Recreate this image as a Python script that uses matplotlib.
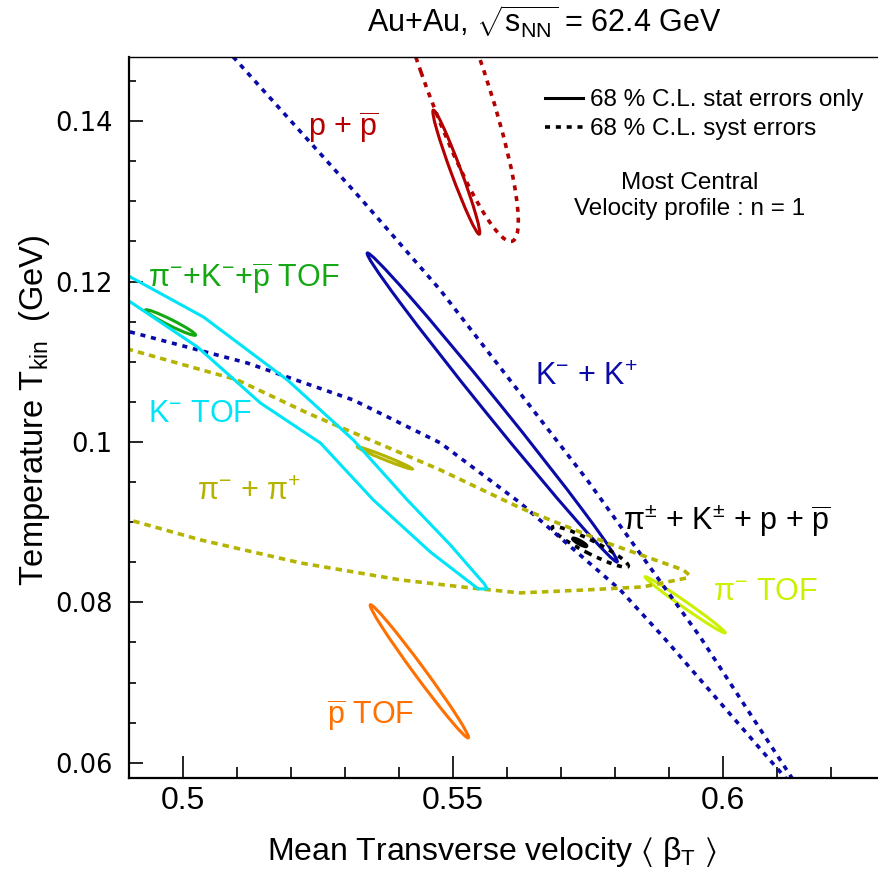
import matplotlib
matplotlib.use('Agg')
import matplotlib.pyplot as plt
from matplotlib.patches import Circle
from matplotlib.transforms import Affine2D
from matplotlib.lines import Line2D
from matplotlib.ticker import MultipleLocator

plt.rcParams['font.family'] = ['Liberation Sans', 'DejaVu Sans']
plt.rcParams['mathtext.fontset'] = 'custom'
plt.rcParams['mathtext.rm'] = 'Liberation Sans'
plt.rcParams['mathtext.it'] = 'Liberation Sans:italic'
plt.rcParams['mathtext.bf'] = 'Liberation Sans:bold'
plt.rcParams['mathtext.default'] = 'regular'

# axis ticks
x_ticks = [0.5, 0.55, 0.6]
x_ticklabels = ['0.5', '0.55', '0.6']
y_ticks = [0.06, 0.08, 0.1, 0.12, 0.14]
y_ticklabels = ['0.06', '0.08', '0.1', '0.12', '0.14']

# elliptic contours: centre (beta, T) plus two conjugate half-axis vectors
ell_keys = ['pp_stat', 'pp_syst', 'kk_stat', 'tof3_stat', 'pipi_stat',
            'all_syst', 'all_stat', 'pim_tof', 'pbar_tof']
ell_beta = [0.55065, 0.54935, 0.55731, 0.49769, 0.53741, 0.57546, 0.57352, 0.59306, 0.54380]
ell_T = [0.13364, 0.14735, 0.10430, 0.11489, 0.09801, 0.08692, 0.08748, 0.07969, 0.07140]
ell_a_beta = [0.00426, 0.01167, 0.02315, 0.00463, 0.00509, 0.00704, 0.00120, 0.00741, 0.00907]
ell_a_T = [-0.00773, -0.02231, -0.01925, -0.00156, -0.00137, -0.00243, -0.00044, -0.00349, -0.00829]
ell_b_beta = [0.00087, 0.00524, 0.00115, 0.00024, 0.00013, 0.00056, 0.00009, 0.00031, 0.00080]
ell_b_T = [0.00022, 0.00123, 0.00062, 0.00034, 0.00021, 0.00072, 0.00015, 0.00031, 0.00039]

# irregular contours read point by point
kk_syst_beta = [0.49991, 0.50935, 0.53287, 0.54769, 0.57491, 0.59583, 0.61306, 0.61380,
                0.61194, 0.58898, 0.58102, 0.56250, 0.54769, 0.53157, 0.51194, 0.49028, 0.47731]
kk_syst_T = [0.15508, 0.14798, 0.13040, 0.11894, 0.09526, 0.07570, 0.05788, 0.05639,
             0.05788, 0.07570, 0.08156, 0.09240, 0.09988, 0.10523, 0.10984, 0.11371, 0.11545]

pipi_syst_beta = [0.47731, 0.48843, 0.51009, 0.52306, 0.54769, 0.56250, 0.57861, 0.59269, 0.59380,
                  0.59343, 0.58528, 0.57491, 0.56250, 0.55324, 0.54028, 0.52176, 0.50324, 0.49009, 0.47731]
pipi_syst_T = [0.11421, 0.11184, 0.10773, 0.10361, 0.09651, 0.09178, 0.08741, 0.08405, 0.08343,
               0.08305, 0.08193, 0.08156, 0.08118, 0.08181, 0.08280, 0.08492, 0.08779, 0.09028, 0.09315]

km_tof_beta = [0.48472, 0.49028, 0.50380, 0.51935, 0.53157, 0.54157, 0.54954, 0.55583, 0.55639,
               0.55472, 0.54583, 0.53528, 0.52546, 0.51435, 0.50269, 0.49028, 0.48472]
km_tof_T = [0.12243, 0.12056, 0.11558, 0.10773, 0.10025, 0.09277, 0.08717, 0.08231, 0.08168,
            0.08168, 0.08629, 0.09277, 0.09988, 0.10486, 0.11184, 0.11745, 0.11956]

# text labels (left edge, baseline)
lab_text = ['p + $\\overline{p}$', 'π$^{-}$+K$^{-}$+$\\overline{p}$ TOF', 'K$^{-}$ TOF', 'π$^{-}$ + π$^{+}$',
            'K$^{-}$ + K$^{+}$', 'π$^{\\pm}$ + K$^{\\pm}$ + p + $\\overline{p}$', 'π$^{-}$ TOF', '$\\overline{p}$ TOF']
lab_beta = [0.52324, 0.49361, 0.49361, 0.50269, 0.56528, 0.58157, 0.59824, 0.52676]
lab_T = [0.13801, 0.11919, 0.10249, 0.09277, 0.10710, 0.08903, 0.08031, 0.06474]

legend_labels = ['68 % C.L. stat errors only', '68 % C.L. syst errors']

RED = '#b40000'
BLUE = '#0a0aa8'
CYAN = '#00e4f8'
GREEN = '#14a814'
OLIVE = '#b4b400'
LIME = '#ccf000'
ORANGE = '#ff7000'
DOT = (0, (1.4, 1.6))
SOLID_LW = 2.2
DOT_LW = 2.6

ell_style = {
    'pp_stat': (RED, '-'), 'pp_syst': (RED, DOT), 'kk_stat': (BLUE, '-'),
    'tof3_stat': (GREEN, '-'), 'pipi_stat': (OLIVE, '-'), 'all_syst': ('black', DOT),
    'all_stat': ('black', '-'), 'pim_tof': (LIME, '-'), 'pbar_tof': (ORANGE, '-'),
}
lab_colors = [RED, GREEN, CYAN, OLIVE, BLUE, 'black', LIME, ORANGE]

fig = plt.figure(figsize=(8.79, 8.81), dpi=100)
ax = fig.add_axes([129 / 879, 103 / 881, 755.5 / 879, 721 / 881])

ax.plot(kk_syst_beta, kk_syst_T, color=BLUE, lw=DOT_LW, ls=DOT, dash_capstyle='butt')
ax.plot(pipi_syst_beta, pipi_syst_T, color=OLIVE, lw=DOT_LW, ls=(0, (1.8, 1.4)), dash_capstyle='butt')
ax.plot(km_tof_beta, km_tof_T, color=CYAN, lw=SOLID_LW)

for i, key in enumerate(ell_keys):
    col, ls = ell_style[key]
    lw = DOT_LW if ls != '-' else SOLID_LW
    if key == 'all_stat':
        lw = 3.0
    tr = Affine2D.from_values(ell_a_beta[i], ell_a_T[i], ell_b_beta[i], ell_b_T[i],
                              ell_beta[i], ell_T[i]) + ax.transData
    ax.add_patch(Circle((0, 0), 1, transform=tr, fill=False, ec=col, lw=lw, ls=ls))

for txt, b, t, c in zip(lab_text, lab_beta, lab_T, lab_colors):
    ax.text(b, t, txt, color=c, fontsize=22, ha='left', va='baseline')

ax.set_xlim(0.49, 0.63)
ax.set_ylim(0.0581, 0.148)
ax.set_xticks(x_ticks)
ax.set_xticklabels(x_ticklabels, fontsize=23)
ax.set_yticks(y_ticks)
ax.set_yticklabels(y_ticklabels, fontfamily='DejaVu Sans', fontsize=18.5)
ax.xaxis.set_minor_locator(MultipleLocator(0.01))
ax.yaxis.set_minor_locator(MultipleLocator(0.005))
ax.tick_params(axis='x', which='major', direction='in', length=16, width=1.2, pad=6)
ax.tick_params(axis='x', which='minor', direction='in', length=8, width=1.2)
ax.tick_params(axis='y', which='major', direction='in', length=10, width=1.2, pad=12)
ax.tick_params(axis='y', which='minor', direction='in', length=5, width=1.2)
for side in ['left', 'bottom']:
    ax.spines[side].set_linewidth(1.6)
ax.spines['top'].set_linewidth(1.0)

handles = [Line2D([], [], color='black', lw=SOLID_LW),
           Line2D([], [], color='black', lw=DOT_LW, ls=DOT, dash_capstyle='butt')]
ax.legend(handles, legend_labels, loc='upper left', bbox_to_anchor=(545 / 879, 1 - 89 / 881),
          bbox_transform=fig.transFigure, frameon=False, fontsize=17.5, handlelength=1.55,
          handletextpad=0.3, labelspacing=0.3, borderpad=0, borderaxespad=0)

fig.text(690 / 879, 1 - 189 / 881, 'Most Central', ha='center', va='baseline', fontsize=17.5)
fig.text(690 / 879, 1 - 215 / 881, 'Velocity profile : n = 1', ha='center', va='baseline', fontsize=17.5)
fig.text(544 / 879, 1 - 33 / 881, 'Au+Au, $\\sqrt{s_{NN}}$ = 62.4 GeV', ha='center', va='baseline', fontsize=22)
fig.text(492 / 879, 1 - 860 / 881, 'Mean Transverse velocity $\\langle$ β$_{T}$ $\\rangle$', ha='center',
         va='baseline', fontsize=23)
fig.text(35 / 879, 1 - 410 / 881, 'Temperature T$_{kin}$  (GeV)', ha='center', va='center', rotation=90,
         fontsize=23.5)

fig.savefig('out.png', dpi=100)
